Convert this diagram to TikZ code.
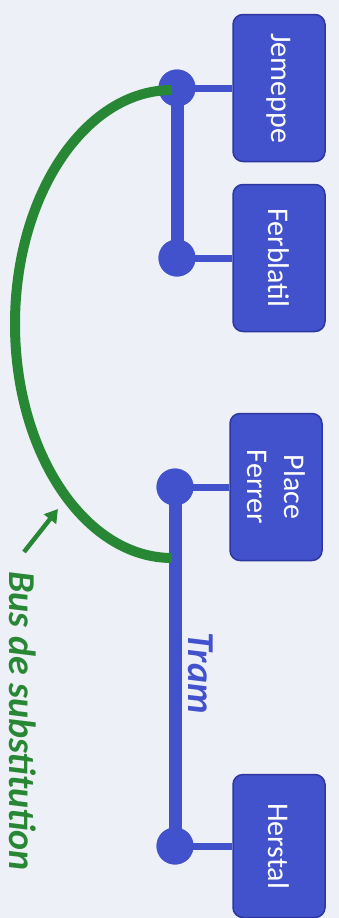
\documentclass[tikz,border=0pt]{standalone}
\usepackage{fontspec}
\setmainfont{Carlito}
\usetikzlibrary{arrows.meta}
\definecolor{bg}{RGB}{238,240,248}
\definecolor{tblue}{RGB}{66,82,204}
\definecolor{tedge}{RGB}{44,56,160}
\definecolor{tgreen}{RGB}{40,135,52}
\tikzset{
  stationbox/.style={draw=tedge, line width=1.5pt, fill=tblue, rounded corners=10pt, rotate=-90,
    minimum width=147pt, minimum height=92pt, inner sep=0pt, text=white, font=\fontsize{30}{36}\selectfont, align=center},
  stopdot/.style={circle, fill=tblue, minimum size=37pt, inner sep=0pt},
  trunk/.style={draw=tblue, line width=13pt},
  spur/.style={draw=tblue, line width=7pt},
  busline/.style={draw=tgreen, line width=10pt},
  biglabel/.style={rotate=-90, inner sep=0pt, font=\fontsize{38}{40}\selectfont\bfseries\itshape},
}
\begin{document}
\begin{tikzpicture}[x=1pt,y=1pt]
\fill[bg] (0,0) rectangle (339,-918);
\useasboundingbox (0,0) rectangle (339,-918);
% boxes
\node[stationbox] (jb) at (279,-88) {Jemeppe};
\node[stationbox] (fb) at (279,-258) {Ferblatil};
\node[stationbox] (pb) at (276,-487) {Place\\[1pt]Ferrer};
\node[stationbox, minimum width=143pt] (hb) at (279,-846) {Herstal};
% dots
\node[stopdot] (jd) at (177,-88) {};
\node[stopdot] (fd) at (177,-258) {};
\node[stopdot] (pd) at (175,-487) {};
\node[stopdot] (hd) at (175,-846) {};
% lines
\path[trunk] (jd.center) -- (fd.center);
\path[trunk] (pd.center) -- (hd.center);
\path[spur] (jd.center) -- (jb.south);
\path[spur] (fd.center) -- (fb.south);
\path[spur] (pd.center) -- (pb.south);
\path[spur] (hd.center) -- (hb.south);
\node[stopdot] at (jd) {};
\node[stopdot] at (fd) {};
\node[stopdot] at (pd) {};
\node[stopdot] at (hd) {};
% substitution bus
\coordinate (gs) at (172,-90);
\path[busline] (gs) arc[start angle=90, end angle=270, x radius=157pt, y radius=234pt];
% labels
\node[biglabel, text=tblue] (tram) at (201,-673) {Tram};
\node[biglabel, text=tgreen] (bus) at (23,-721) {Bus de substitution};
\coordinate (at) at (24,-552);
\coordinate (ah) at (58,-509);
\draw[tgreen, line width=4.5pt, -{Triangle[length=13pt,width=15pt]}] (at) -- (ah);
\end{tikzpicture}
\end{document}
